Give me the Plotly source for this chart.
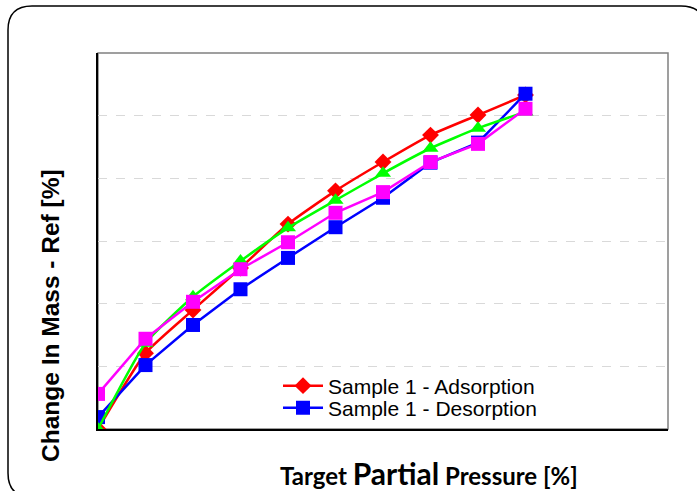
import plotly.graph_objects as go

# ---- data ----
pressure = [0, 10, 20, 30, 40, 50, 60, 70, 80, 90]
ads1 = [0.00, 1.21, 1.90, 2.57, 3.27, 3.80, 4.26, 4.69, 5.01, 5.33]
des1 = [0.19, 1.02, 1.66, 2.23, 2.73, 3.22, 3.69, 4.25, 4.57, 5.35]
ads2 = [0.00, 1.37, 2.11, 2.68, 3.21, 3.65, 4.08, 4.48, 4.80, 5.06]
des2 = [0.56, 1.44, 2.03, 2.55, 2.98, 3.45, 3.78, 4.26, 4.55, 5.11]
names = ["Sample 1 - Adsorption", "Sample 1 - Desorption", "Sample 2 - Adsorption", "Sample 2 - Desorption"]

W, H = 697, 491
L, R, T, B = 98, 668, 53, 429  # plot area in pixels

def px(x):
    return (x - L) / (R - L)

def py(y):
    return (B - y) / (B - T)

fig = go.Figure()
fig.add_trace(go.Scatter(x=pressure, y=ads1, name=names[0], mode="lines+markers",
                         line=dict(color="#FF0000", width=2.5, shape="spline", smoothing=0.5),
                         marker=dict(symbol="diamond", size=13, color="#FF0000"),
                         legend="legend"))
fig.add_trace(go.Scatter(x=pressure, y=des1, name=names[1], mode="lines+markers",
                         line=dict(color="#0000FF", width=2.5),
                         marker=dict(symbol="square", size=14, color="#0000FF"),
                         legend="legend2"))
fig.add_trace(go.Scatter(x=pressure, y=ads2, name=names[2], mode="lines+markers",
                         line=dict(color="#00FF00", width=2.5, shape="spline", smoothing=0.5),
                         marker=dict(symbol="triangle-up", size=14, color="#00FF00"),
                         showlegend=False))
fig.add_trace(go.Scatter(x=pressure, y=des2, name=names[3], mode="lines+markers",
                         line=dict(color="#FF00FF", width=2.5),
                         marker=dict(symbol="square", size=14, color="#FF00FF"),
                         showlegend=False))

# outer rounded frame (pixel coords converted to paper)
r = 24
x0, y0, x1, y1 = 8, 6, 705, 497
path = (f"M {px(x0)},{py(y0 + r)} Q {px(x0)},{py(y0)} {px(x0 + r)},{py(y0)} "
        f"L {px(x1 - r)},{py(y0)} Q {px(x1)},{py(y0)} {px(x1)},{py(y0 + r)} "
        f"L {px(x1)},{py(y1 - r)} Q {px(x1)},{py(y1)} {px(x1 - r)},{py(y1)} "
        f"L {px(x0 + r)},{py(y1)} Q {px(x0)},{py(y1)} {px(x0)},{py(y1 - r)} Z")
fig.add_shape(type="path", path=path, xref="paper", yref="paper",
              line=dict(color="black", width=1.5), layer="below")
# plot area frame (gray top/right)
fig.add_shape(type="rect", xref="paper", yref="paper", x0=0, y0=0, x1=1, y1=1,
              line=dict(color="#808080", width=1.5), layer="below")

fig.add_annotation(text="Change In Mass - Ref [%]", xref="paper", yref="paper",
                   x=px(50), y=py(316), textangle=-90, showarrow=False,
                   xanchor="center", yanchor="middle",
                   font=dict(family="Liberation Sans, Arial", size=24.5, color="black", weight="bold"))
fig.add_annotation(text="Target <span style='font-size:30px'>Partial</span> Pressure [%]",
                   xref="paper", yref="paper", x=px(429), y=py(473), showarrow=False,
                   xanchor="center", yanchor="middle",
                   font=dict(family="Lato", size=24, color="black", weight="bold"))

leg_common = dict(font=dict(family="Liberation Sans, Arial", size=21, color="black"),
                  bgcolor="rgba(0,0,0,0)", xanchor="left", yanchor="middle",
                  itemwidth=40, tracegroupgap=0)
fig.update_layout(
    width=W, height=H,
    margin=dict(l=L, r=W - R, t=T, b=H - B),
    paper_bgcolor="white", plot_bgcolor="white",
    showlegend=True,
    legend=dict(x=px(278), y=py(386), **leg_common),
    legend2=dict(x=px(278), y=py(408), **leg_common),
    xaxis=dict(range=[0, 120], showgrid=False, zeroline=False, showticklabels=False,
               ticks="", showline=True, linecolor="black", linewidth=1.5),
    yaxis=dict(range=[0, 6], dtick=1, showgrid=True, gridcolor="#D9D9D9", griddash="dash",
               gridwidth=1, zeroline=False, showticklabels=False, ticks="",
               showline=True, linecolor="black", linewidth=1.5),
)

fig.write_html("out.html", config={"displayModeBar": False},
               post_script="document.body.style.margin='0';")
